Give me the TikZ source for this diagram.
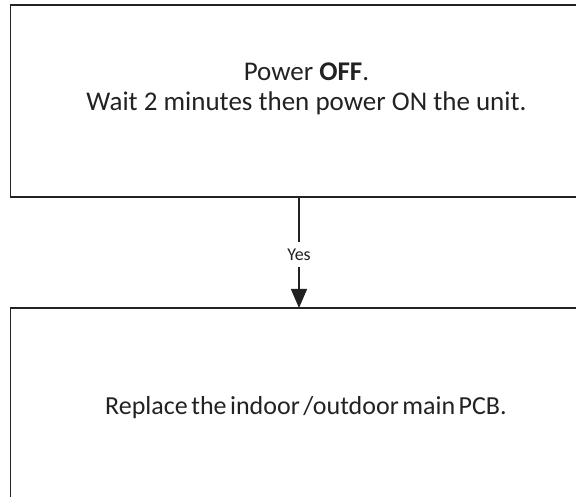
\documentclass[tikz,border=0pt]{standalone}
\usepackage{fontspec}
\setmainfont{Carlito}
\usetikzlibrary{arrows.meta}
\definecolor{ink}{HTML}{222222}
\tikzset{
  boxline/.style={draw=ink, line width=1.4pt},
  maintext/.style={font=\fontsize{27}{33}\selectfont, text=ink, inner sep=0pt, anchor=base},
  yeslabel/.style={font=\fontsize{18}{21}\selectfont, text=ink, fill=white, inner sep=0pt, minimum height=25pt},
  conn/.style={draw=ink, line width=1.4pt, -{Triangle[length=19pt,width=16pt]}}
}
\begin{document}
\begin{tikzpicture}[x=1pt,y=1pt]
\useasboundingbox (0,0) rectangle (576,497);
\clip (0,0) rectangle (576,497);
\coordinate (tl) at (10.5,492);
\coordinate (br) at (602,300);
\draw[boxline] (tl) rectangle (br);
\node[maintext] (l1) at (306.5,416) {Power \textbf{OFF}.};
\node[maintext] (l2) at (306.5,386) {Wait 2 minutes then power ON the unit.};
\coordinate (btl) at (10.5,189);
\coordinate (bbr) at (602,-20);
\draw[boxline] (btl) rectangle (bbr);
\node[maintext, font=\fontsize{26}{31}\selectfont] (l3) at (306,82) {\spaceskip=3.5pt plus 1pt minus 1pt Replace the indoor /outdoor main PCB.};
\coordinate (src) at (299,300);
\coordinate (dst) at (299,189);
\draw[conn] (src) -- (dst);
\node[yeslabel] (yes) at (299,242.5) {Yes};
\end{tikzpicture}
\end{document}
